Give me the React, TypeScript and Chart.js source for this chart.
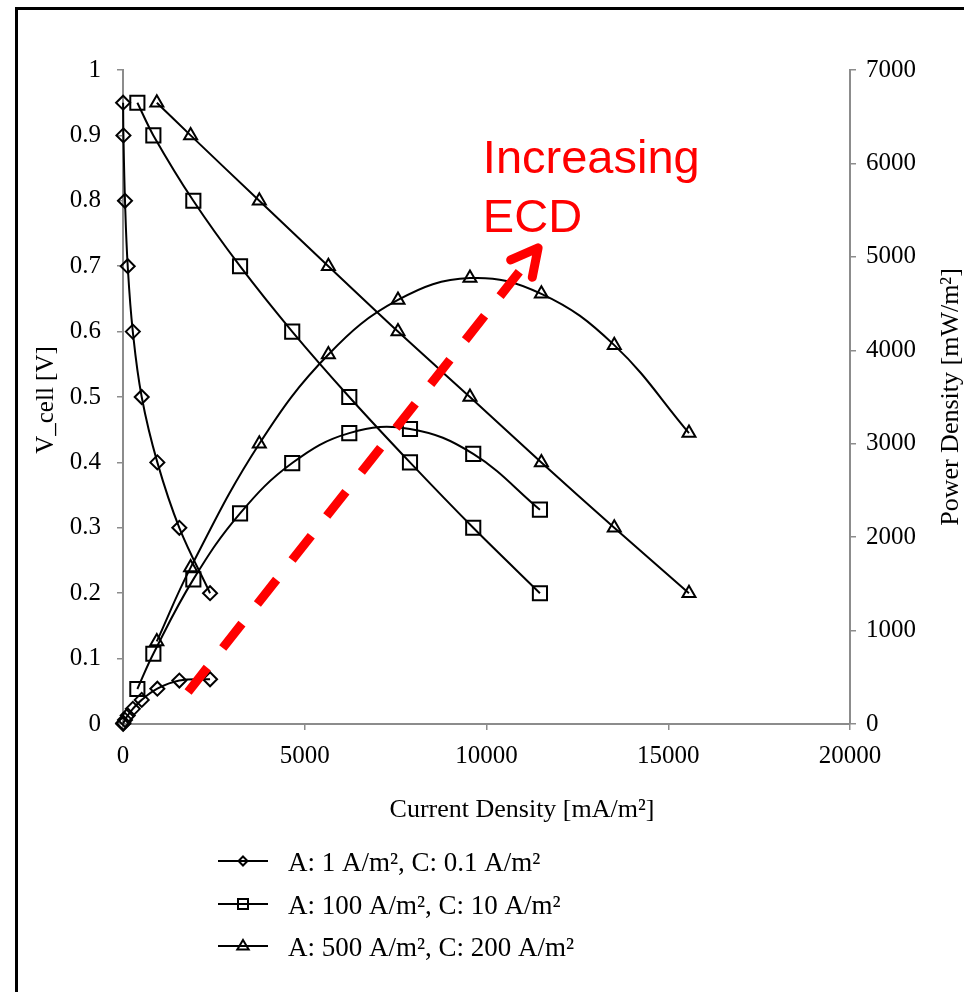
import React, { useEffect, useRef } from 'react';
import { Chart, registerables } from 'chart.js';

Chart.register(...registerables);

// ---- Data ----
const voltLevels = [0.95, 0.9, 0.8, 0.7, 0.6, 0.5, 0.4, 0.3, 0.2];

const currentDiamond = [3, 12, 55, 130, 270, 515, 945, 1550, 2395];
const powerDiamond = [3, 11, 44, 91, 162, 258, 378, 465, 479];

const currentSquare = [395, 835, 1935, 3220, 4655, 6225, 7895, 9635, 11470];
const powerSquare = [375, 752, 1548, 2254, 2793, 3113, 3158, 2891, 2294];

const currentTriangle = [930, 1860, 3750, 5650, 7565, 9545, 11510, 13515, 15570];
const powerTriangle = [884, 1674, 3000, 3955, 4539, 4773, 4604, 4055, 3114];

const seriesLabels = [
  'A: 1 A/m², C: 0.1 A/m²',
  'A: 100 A/m², C: 10 A/m²',
  'A: 500 A/m², C: 200 A/m²',
];
const seriesMarkers = ['rectRot', 'rect', 'triangle'];

const xTitle = 'Current Density [mA/m²]';
const yTitle = 'V_cell [V]';
const y1Title = 'Power Density [mW/m²]';
const annotationLines = ['Increasing', 'ECD'];

// annotation anchors in data units (x: current density, v: cell voltage)
const arrowStart = { x: 1790, v: 0.049 };
const arrowTip = { x: 11420, v: 0.728 };
const annotationAnchor = { x: 9900, v: 0.843 };
const annotationLineStep = 0.09;

const SERIF = "'Liberation Serif', 'Times New Roman', serif";
const SANS = "'Liberation Sans', Arial, sans-serif";

const pts = (xs: number[], ys: number[]) => xs.map((x, i) => ({ x, y: ys[i] }));

function drawMarker(ctx: CanvasRenderingContext2D, style: string, x: number, y: number, r: number) {
  ctx.beginPath();
  if (style === 'rectRot') {
    ctx.moveTo(x, y - r);
    ctx.lineTo(x + r, y);
    ctx.lineTo(x, y + r);
    ctx.lineTo(x - r, y);
    ctx.closePath();
  } else if (style === 'rect') {
    ctx.rect(x - r, y - r, 2 * r, 2 * r);
  } else {
    const h = r * 1.0;
    ctx.moveTo(x, y - h);
    ctx.lineTo(x + r * 0.95, y + h * 0.6);
    ctx.lineTo(x - r * 0.95, y + h * 0.6);
    ctx.closePath();
  }
  ctx.stroke();
}

const overlayPlugin = {
  id: 'overlay',
  afterDatasetsDraw(chart: any) {
    const { ctx, scales } = chart;
    const x = scales.x;
    const y = scales.y;
    // dashed red arrow
    const sx = x.getPixelForValue(arrowStart.x);
    const sy = y.getPixelForValue(arrowStart.v);
    const tx = x.getPixelForValue(arrowTip.x);
    const ty = y.getPixelForValue(arrowTip.v);
    ctx.save();
    ctx.strokeStyle = '#ff0000';
    ctx.lineWidth = 9;
    ctx.lineCap = 'butt';
    ctx.setLineDash([31, 25]);
    ctx.beginPath();
    ctx.moveTo(sx, sy);
    ctx.lineTo(tx, ty);
    ctx.stroke();
    ctx.setLineDash([]);
    const back = Math.atan2(sy - ty, sx - tx);
    const wl = 30;
    const a1 = back + (28 * Math.PI) / 180;
    const a2 = back - (27 * Math.PI) / 180;
    ctx.lineCap = 'round';
    ctx.lineJoin = 'round';
    ctx.beginPath();
    ctx.moveTo(tx + Math.cos(a1) * wl, ty + Math.sin(a1) * wl);
    ctx.lineTo(tx, ty);
    ctx.lineTo(tx + Math.cos(a2) * wl, ty + Math.sin(a2) * wl);
    ctx.stroke();
    // annotation text
    ctx.fillStyle = '#ff0000';
    ctx.font = `47px ${SANS}`;
    ctx.textAlign = 'left';
    ctx.textBaseline = 'alphabetic';
    annotationLines.forEach((t, i) => {
      ctx.fillText(
        t,
        x.getPixelForValue(annotationAnchor.x),
        y.getPixelForValue(annotationAnchor.v - i * annotationLineStep)
      );
    });
    ctx.restore();
  },
  afterDraw(chart: any) {
    const { ctx } = chart;
    ctx.save();
    // frame
    ctx.fillStyle = '#000';
    ctx.fillRect(15, 7, 3, 985);
    ctx.fillRect(15, 7, 949, 3);
    // axis titles
    ctx.fillStyle = '#000';
    ctx.font = `26px ${SERIF}`;
    ctx.textAlign = 'center';
    ctx.textBaseline = 'alphabetic';
    ctx.fillText(xTitle, 522, 817);
    ctx.save();
    ctx.translate(53, 400);
    ctx.rotate(-Math.PI / 2);
    ctx.font = `25px ${SERIF}`;
    ctx.fillText(yTitle, 0, 0);
    ctx.restore();
    ctx.save();
    ctx.translate(958, 397);
    ctx.rotate(-Math.PI / 2);
    ctx.fillText(y1Title, 0, 0);
    ctx.restore();
    // legend
    const rows = [861, 904, 946];
    const sizes = [4.5, 5, 6];
    ctx.strokeStyle = '#000';
    ctx.lineWidth = 2;
    ctx.font = `27px ${SERIF}`;
    ctx.textAlign = 'left';
    seriesLabels.forEach((lab, i) => {
      const ry = rows[i];
      ctx.beginPath();
      ctx.moveTo(218, ry);
      ctx.lineTo(268, ry);
      ctx.stroke();
      drawMarker(ctx, seriesMarkers[i], 243, ry, sizes[i]);
      ctx.fillText(lab, 288, ry + 10);
    });
    ctx.restore();
  },
};

export default function App() {
  const ref = useRef<HTMLCanvasElement | null>(null);

  useEffect(() => {
    if (!ref.current) return;
    const lineBase = {
      borderColor: '#000',
      borderWidth: 2,
      pointBorderColor: '#000',
      pointBackgroundColor: 'rgba(0,0,0,0)',
      pointBorderWidth: 2,
      fill: false,
      clip: false as any,
    };
    const datasets = [
      { ...lineBase, label: seriesLabels[0], data: pts(currentDiamond, voltLevels), yAxisID: 'y', pointStyle: 'rectRot', pointRadius: 7, tension: 0.4 },
      { ...lineBase, label: seriesLabels[1], data: pts(currentSquare, voltLevels), yAxisID: 'y', pointStyle: 'rect', pointRadius: 10, tension: 0.3 },
      { ...lineBase, label: seriesLabels[2], data: pts(currentTriangle, voltLevels), yAxisID: 'y', pointStyle: 'triangle', pointRadius: 7.5, tension: 0.3 },
      { ...lineBase, label: seriesLabels[0] + ' P', data: pts(currentDiamond, powerDiamond), yAxisID: 'y1', pointStyle: 'rectRot', pointRadius: 7, tension: 0.4 },
      { ...lineBase, label: seriesLabels[1] + ' P', data: pts(currentSquare, powerSquare), yAxisID: 'y1', pointStyle: 'rect', pointRadius: 10, tension: 0.4 },
      { ...lineBase, label: seriesLabels[2] + ' P', data: pts(currentTriangle, powerTriangle), yAxisID: 'y1', pointStyle: 'triangle', pointRadius: 7.5, tension: 0.4 },
    ];
    const axisColor = '#8c8c8c';
    const tickFont = { family: SERIF, size: 25 };
    const chart = new Chart(ref.current, {
      type: 'line',
      data: { datasets: datasets as any },
      plugins: [overlayPlugin as any],
      options: {
        responsive: false,
        animation: false,
        devicePixelRatio: 1,
        events: [],
        layout: { padding: { left: 0, right: 0, top: 70, bottom: 150 } },
        plugins: { legend: { display: false }, tooltip: { enabled: false }, title: { display: false } },
        scales: {
          x: {
            type: 'linear',
            min: 0,
            max: 20000,
            ticks: { stepSize: 5000, font: tickFont, color: '#000', padding: 11, callback: (v: any) => String(v) },
            grid: { drawOnChartArea: false, drawTicks: true, tickLength: 6, color: axisColor, lineWidth: 1.5 },
            border: { color: axisColor, width: 2 },
            afterFit: (s: any) => { s.height = 118; },
          },
          y: {
            type: 'linear',
            position: 'left',
            min: 0,
            max: 1,
            ticks: { stepSize: 0.1, font: tickFont, color: '#000', padding: 16, callback: (v: any) => String(Math.round(v * 10) / 10) },
            grid: { drawOnChartArea: false, drawTicks: true, tickLength: 6, color: axisColor, lineWidth: 1.5 },
            border: { color: axisColor, width: 2 },
            afterFit: (s: any) => { s.width = 123; },
          },
          y1: {
            type: 'linear',
            position: 'right',
            min: 0,
            max: 7000,
            ticks: { stepSize: 1000, font: tickFont, color: '#000', padding: 10, callback: (v: any) => String(v) },
            grid: { drawOnChartArea: false, drawTicks: true, tickLength: 6, color: axisColor, lineWidth: 1.5 },
            border: { color: axisColor, width: 2 },
            afterFit: (s: any) => { s.width = 114; },
          },
        },
      } as any,
    });
    return () => chart.destroy();
  }, []);

  return (
    <div style={{ position: 'absolute', left: 0, top: 0, width: 964, height: 992, background: '#fff' }}>
      <canvas ref={ref} width={964} height={992} style={{ display: 'block', width: 964, height: 992 }} />
    </div>
  );
}
